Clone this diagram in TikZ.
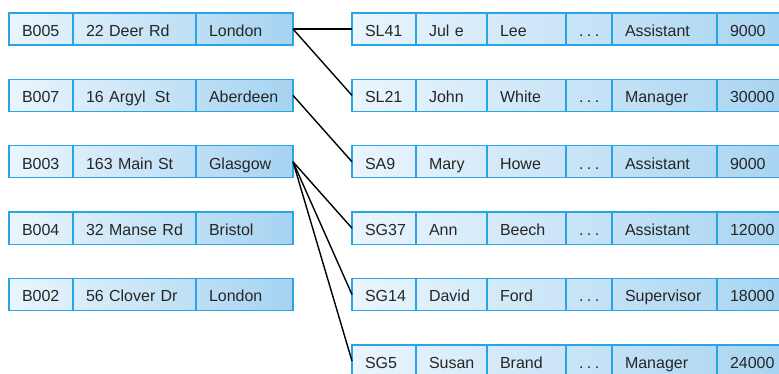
\documentclass[tikz,border=0pt]{standalone}
\usepackage{fontspec}
\setmainfont{Liberation Sans}
\usetikzlibrary{positioning,backgrounds}
\definecolor{bcol}{HTML}{2AA5E3}
\definecolor{gleft}{HTML}{EAF5FD}
\definecolor{gright}{HTML}{A6D3F1}
\definecolor{tcol}{HTML}{262626}
\tikzset{
  cell/.style={draw=bcol, line width=1.4pt, outer sep=0pt, inner xsep=13pt, inner ysep=0pt,
    minimum height=32pt, text height=16pt, text depth=1.5pt, align=left, text=tcol,
    font=\fontsize{16}{18}\selectfont, anchor=west},
  link/.style={draw=black, line width=1.4pt},
  rowshade/.style={left color=gleft, right color=gright, draw=none}
}
\newcommand\mydots{.\kern3.5pt.\kern3.5pt.}
\newcommand\lrow[5]{%
  \node[cell, text width=38pt] (#1a) at (9,#2) {#3};
  \node[cell, text width=97pt, right=0pt of #1a] (#1b) {#4};
  \node[cell, text width=71pt, right=0pt of #1b] (#1c) {#5};
  \begin{scope}[on background layer]
    \fill[rowshade] (#1a.north west) rectangle (#1c.south east);
  \end{scope}
}
\newcommand\rrow[7]{%
  \node[cell, text width=38pt] (#1a) at (352,#2) {#3};
  \node[cell, text width=45pt, right=0pt of #1a] (#1b) {#4};
  \node[cell, text width=53pt, right=0pt of #1b] (#1c) {#5};
  \node[cell, text width=20pt, right=0pt of #1c] (#1d) {\mydots};
  \node[cell, text width=79pt, right=0pt of #1d] (#1e) {#6};
  \node[cell, text width=54pt, right=0pt of #1e] (#1f) {#7};
  \begin{scope}[on background layer]
    \fill[rowshade] (#1a.north west) rectangle (#1f.south east);
  \end{scope}
}
\begin{document}
\begin{tikzpicture}[x=1pt,y=1pt]
\useasboundingbox (0,0) rectangle (779,-374);
\lrow{bfive}{-29}{B005}{22 Deer Rd}{London}
\lrow{bseven}{-95.4}{B007}{16 Argyl\hspace{4pt} St}{Aberdeen}
\lrow{bthree}{-161.8}{B003}{163 Main St}{Glasgow}
\lrow{bfour}{-228.2}{B004}{32 Manse Rd}{Bristol}
\lrow{btwo}{-294.6}{B002}{56 Clover Dr}{London}
\rrow{slfo}{-29}{SL41}{Jul e}{Lee}{Assistant}{9000}
\rrow{sltw}{-95.4}{SL21}{John}{White}{Manager}{30000}
\rrow{sanine}{-161.8}{SA9}{Mary}{Howe}{Assistant}{9000}
\rrow{sgtt}{-228.2}{SG37}{Ann}{Beech}{Assistant}{12000}
\rrow{sgfourteen}{-294.6}{SG14}{David}{Ford}{Supervisor}{18000}
\rrow{sgfive}{-361}{SG5}{Susan}{Brand}{Manager}{24000}
\draw[link] (bfivec.east) -- (slfoa.west);
\draw[link] (bfivec.east) -- (sltwa.west);
\draw[link] (bsevenc.east) -- (saninea.west);
\draw[link] (bthreec.east) -- (sgtta.west);
\draw[link] (bthreec.east) -- (sgfourteena.west);
\draw[link] (bthreec.east) -- (sgfivea.west);
\end{tikzpicture}
\end{document}
